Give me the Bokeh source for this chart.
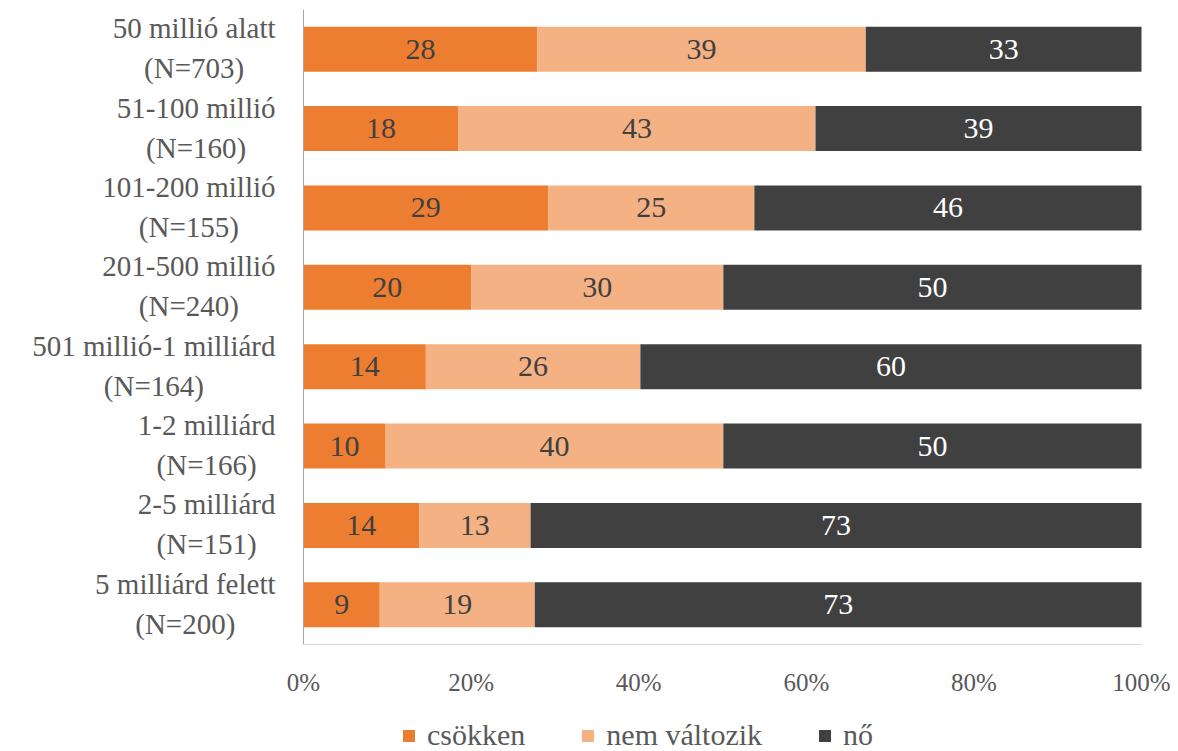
from bokeh.plotting import figure
from bokeh.models import (ColumnDataSource, Range1d, FixedTicker, Legend, LegendItem)
from bokeh.core.properties import value
from bokeh.embed import file_html
from bokeh.resources import INLINE

cat_names = ["50 millió alatt", "51-100 millió", "101-200 millió", "201-500 millió",
             "501 millió-1 milliárd", "1-2 milliárd", "2-5 milliárd", "5 milliárd felett"]
cat_n = ["(N=703)", "(N=160)", "(N=155)", "(N=240)", "(N=164)", "(N=166)", "(N=151)", "(N=200)"]
series_names = ["csökken", "nem változik", "nő"]
csokken = [27.9, 18.5, 29.2, 20.0, 14.6, 9.8, 13.8, 9.1]
nem_valtozik = [39.2, 42.6, 24.6, 30.1, 25.6, 40.3, 13.3, 18.5]
no = [32.9, 38.9, 46.2, 49.9, 59.8, 49.9, 72.9, 72.4]
csokken_lbl = [28, 18, 29, 20, 14, 10, 14, 9]
nem_lbl = [39, 43, 25, 30, 26, 40, 13, 19]
no_lbl = [33, 39, 46, 50, 60, 50, 73, 73]
x_ticks = [0, 20, 40, 60, 80, 100]
x_tick_labels = ["0%", "20%", "40%", "60%", "80%", "100%"]

colors = ["#ED7D31", "#F4B183", "#404040"]
FONT = "Liberation Serif"
TXT = "#595959"
CAT_SIZE = 29

# Liberation Serif (Times-compatible) advance widths, per 1000 em, used to centre the
# second line of each category label under the first one
_W = {' ': 250, '-': 333, '(': 333, ')': 333, '=': 564, 'N': 722, 'a': 444, 'á': 444,
      'd': 500, 'e': 444, 'f': 333, 'i': 278, 'l': 278, 'm': 778, 'o': 500, 'ó': 500,
      'r': 333, 't': 278}


def text_width(s, size):
    return sum(500 if ch.isdigit() else _W.get(ch, 500) for ch in s) * size / 1000.0


W, H = 1170, 751
TOP = 9
PLOT_LEFT, PLOT_RIGHT = 303, 1141      # pixel position of 0% and 100%
PLOT_BOTTOM = 644                      # pixel position of the category axis end
px_per_pct = (PLOT_RIGHT - PLOT_LEFT) / 100.0
x_start = -PLOT_LEFT / px_per_pct
x_end = 100 + (W - PLOT_RIGHT) / px_per_pct

n = len(cat_names)
ypos = [i + 0.5 for i in range(n)]
y_end = n * (H - TOP) / (PLOT_BOTTOM - TOP)

p = figure(width=W, height=H, output_backend="svg", toolbar_location=None,
           x_range=Range1d(x_start, x_end), y_range=Range1d(y_end, 0),
           min_border_left=0, min_border_right=0, min_border_top=TOP,
           min_border_bottom=0)
p.outline_line_color = None
p.xgrid.visible = False
p.ygrid.visible = False
p.yaxis.visible = False

src = ColumnDataSource(dict(y=ypos, csokken=csokken, nem=nem_valtozik, no=no))
rs = p.hbar_stack(["csokken", "nem", "no"], y="y", height=0.567, color=colors,
                  line_color=None, source=src)

# axis lines of the plot area
p.segment(x0=[0], y0=[0], x1=[0], y1=[n], line_color="#A6A6A6", line_width=1)
p.segment(x0=[0], y0=[n], x1=[100], y1=[n], line_color="#D9D9D9", line_width=1)

# bar labels
lx, ly, lt, lc = [], [], [], []
for i in range(n):
    vals = [csokken[i], nem_valtozik[i], no[i]]
    lbls = [csokken_lbl[i], nem_lbl[i], no_lbl[i]]
    cum = 0
    for j in range(3):
        lx.append(cum + vals[j] / 2)
        ly.append(ypos[i])
        lt.append(str(lbls[j]))
        lc.append("#FFFFFF" if j == 2 else "#404040")
        cum += vals[j]
tsrc = ColumnDataSource(dict(x=lx, y=ly, t=lt, c=lc))
p.text(x="x", y="y", text="t", text_color="c", source=tsrc, text_align="center",
       text_baseline="middle", text_font=value(FONT), text_font_size="30px")

# category labels: first line right-aligned, second line centred under it
w1 = [text_width(s, CAT_SIZE) for s in cat_names]
csrc1 = ColumnDataSource(dict(x=[0] * n, y=ypos, t=cat_names, xo=[-28] * n))
csrc2 = ColumnDataSource(dict(x=[0] * n, y=ypos, t=cat_n, xo=[-28 - w / 2 for w in w1]))
p.text(x="x", y="y", text="t", x_offset="xo", y_offset=-21, source=csrc1,
       text_align="right", text_baseline="middle", text_font=value(FONT),
       text_font_size=f"{CAT_SIZE}px", text_color=TXT)
p.text(x="x", y="y", text="t", x_offset="xo", y_offset=19, source=csrc2,
       text_align="center", text_baseline="middle", text_font=value(FONT),
       text_font_size=f"{CAT_SIZE}px", text_color=TXT)

# x axis, fixed at the bottom of the bars area
xa = p.xaxis[0]
xa.fixed_location = n
xa.ticker = FixedTicker(ticks=x_ticks)
xa.major_label_overrides = {t: l for t, l in zip(x_ticks, x_tick_labels)}
xa.major_tick_line_color = None
xa.minor_tick_line_color = None
xa.axis_line_color = None
xa.major_label_text_font = FONT
xa.major_label_text_font_size = "25px"
xa.major_label_text_color = TXT
xa.major_label_standoff = 18

legend = Legend(items=[LegendItem(label=nm, renderers=[r]) for nm, r in zip(series_names, rs)],
                orientation="horizontal", location=(401, -1),
                glyph_width=15, glyph_height=15, label_standoff=11, spacing=55,
                padding=0, margin=0, border_line_color=None, background_fill_alpha=0,
                label_text_font=FONT, label_text_font_size="30px", label_text_color=TXT)
p.add_layout(legend, "center")

open("out.html", "w").write(file_html(p, INLINE))
